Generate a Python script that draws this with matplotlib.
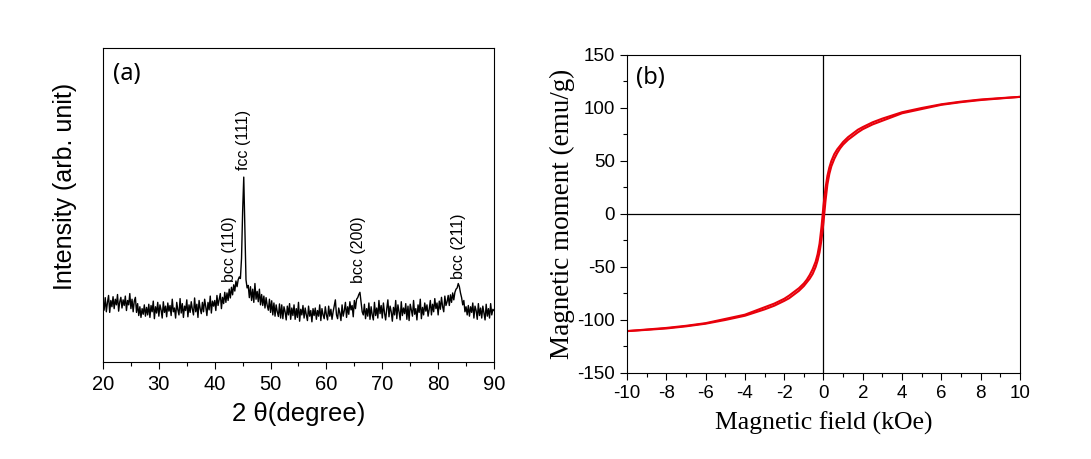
import numpy as np
import matplotlib
matplotlib.use("Agg")
import matplotlib.pyplot as plt
from matplotlib.ticker import MultipleLocator

plt.rcParams["axes.unicode_minus"] = False

# (a) XRD pattern, 2theta from 20 to 90 deg in 0.2 deg steps
two_theta_start, two_theta_step = 20.0, 0.2
intensity = [
    198, 165, 205, 160, 190, 212, 158, 196, 176, 208,
    170, 200, 182, 215, 162, 192, 206, 172, 198, 180,
    210, 164, 196, 182, 218, 170, 200, 160, 194, 206,
    158, 186, 148, 176, 142, 170, 152, 182, 146, 174,
    150, 184, 142, 180, 160, 194, 138, 176, 156, 190,
    146, 182, 166, 140, 192, 158, 178, 144, 188, 162,
    180, 148, 200, 160, 172, 140, 190, 166, 150, 202,
    156, 186, 142, 178, 164, 198, 144, 182, 158, 192,
    168, 150, 204, 160, 184, 142, 196, 170, 154, 190,
    160, 200, 176, 148, 190, 166, 210, 156, 194, 178,
    196, 164, 212, 180, 200, 218, 170, 206, 186, 222,
    190, 220, 196, 232, 204, 238, 214, 246, 226, 258,
    240, 262, 271, 266, 330, 480, 589, 420, 262, 236,
    244, 205, 240, 196, 232, 190, 250, 200, 225, 192,
    232, 182, 215, 180, 210, 172, 205, 180, 165, 200,
    158, 195, 150, 188, 146, 182, 160, 145, 185, 140,
    182, 138, 176, 160, 134, 178, 150, 186, 136, 172,
    148, 182, 136, 170, 142, 190, 130, 168, 150, 180,
    140, 172, 150, 132, 178, 146, 164, 128, 170, 148,
    172, 136, 164, 146, 182, 132, 170, 150, 138, 176,
    150, 134, 178, 146, 168, 136, 160, 180, 198, 150,
    138, 172, 156, 132, 182, 146, 164, 190, 142, 176,
    152, 192, 166, 180, 144, 196, 170, 200, 205, 215,
    222, 190, 160, 150, 184, 138, 170, 146, 188, 136,
    176, 150, 134, 190, 148, 172, 140, 196, 154, 180,
    140, 188, 156, 134, 170, 198, 144, 178, 160, 130,
    174, 150, 196, 138, 182, 160, 134, 192, 148, 172,
    154, 186, 136, 178, 132, 184, 166, 146, 196, 152,
    170, 134, 182, 158, 200, 138, 174, 150, 188, 162,
    182, 146, 168, 196, 150, 184, 160, 202, 170, 188,
    150, 194, 168, 206, 176, 160, 210, 180, 192, 212,
    180, 214, 190, 220, 198, 222, 232, 236, 250, 240,
    220, 205, 182, 196, 160, 176, 150, 180, 146, 176,
    158, 188, 140, 178, 164, 136, 186, 148, 172, 140,
    178, 156, 134, 184, 146, 170, 140, 186, 150, 168,
    164,
]
peak_labels = ["bcc (110)", "fcc (111)", "bcc (200)", "bcc (211)"]
peak_pos = [42.7, 45.2, 65.8, 83.6]
peak_label_y = [255, 612, 252, 264]

# (b) M-H loop, descending branch (ascending branch is its mirror image)
field_down = [10, 9, 8, 7, 6, 5, 4, 3.5, 3, 2.5, 2, 1.75, 1.5, 1.25, 1, 0.85, 0.7,
              0.55, 0.4, 0.3, 0.2, 0.1, 0.05, 0, -0.05, -0.1, -0.2, -0.3, -0.4,
              -0.55, -0.7, -0.85, -1, -1.25, -1.5, -1.75, -2, -2.5, -3, -3.5, -4,
              -5, -6, -7, -8, -9, -10]
moment_down = [110.5, 109.3, 108, 106, 103.5, 100, 96, 93, 90, 86.5, 82, 79.5, 76,
               72.5, 68, 64.5, 61, 56.5, 50, 44, 36, 24, 16, 8, -2, -12, -28, -38,
               -45, -52, -57.5, -62, -65.5, -70, -73.5, -77, -80, -84.5, -88, -91.5,
               -95, -99, -103, -105.5, -107.5, -109, -110.5]

two_theta = two_theta_start + two_theta_step * np.arange(len(intensity))
field_up = [-h for h in field_down]
moment_up = [-m for m in moment_down]

fig = plt.figure(figsize=(10.91, 4.59), dpi=100)
ax1 = fig.add_axes([0.0944, 0.2113, 0.3584, 0.684])
ax2 = fig.add_axes([0.5747, 0.1874, 0.3602, 0.6928])

# ---- (a)
ax1.plot(two_theta, intensity, color="black", lw=1.0)
ax1.set_xlim(20, 90)
ax1.set_ylim(0, 1000)
ax1.xaxis.set_major_locator(MultipleLocator(10))
ax1.xaxis.set_minor_locator(MultipleLocator(5))
ax1.tick_params(axis="x", which="major", direction="out", length=5, width=0.8,
                labelsize=14.5, pad=4)
ax1.tick_params(axis="x", which="minor", direction="out", length=3, width=0.8)
ax1.tick_params(axis="y", left=False, labelleft=False)
for lab in ax1.get_xticklabels():
    lab.set_family("Liberation Sans")
ax1.set_xlabel("2 \u03b8(degree)", family="Liberation Sans", fontsize=18.5, labelpad=6)
ax1.set_ylabel("Intensity (arb. unit)", family="Liberation Sans", fontsize=18)
ax1.yaxis.set_label_coords(-0.066, 0.56)
for name, x, y in zip(peak_labels, peak_pos, peak_label_y):
    ax1.text(x, y, name, rotation=90, ha="center", va="bottom",
             family="Liberation Sans", fontsize=11.5)
ax1.text(0.025, 0.955, "(a)", transform=ax1.transAxes, ha="left", va="top",
         family="Noto Sans", fontsize=17)

# ---- (b)
ax2.axhline(0, color="black", lw=0.9)
ax2.axvline(0, color="black", lw=0.9)
ax2.plot(field_down, moment_down, color="#e8000b", lw=1.5)
ax2.plot(field_up, moment_up, color="#e8000b", lw=1.5)
ax2.set_xlim(-10, 10)
ax2.set_ylim(-150, 150)
ax2.xaxis.set_major_locator(MultipleLocator(2))
ax2.xaxis.set_minor_locator(MultipleLocator(1))
ax2.yaxis.set_major_locator(MultipleLocator(50))
ax2.yaxis.set_minor_locator(MultipleLocator(25))
ax2.tick_params(which="major", direction="out", length=5, width=0.8, labelsize=13.5)
ax2.tick_params(which="minor", direction="out", length=3, width=0.8)
for lab in ax2.get_xticklabels() + ax2.get_yticklabels():
    lab.set_family("Liberation Sans")
ax2.set_xlabel("Magnetic field (kOe)", family="Liberation Serif", fontsize=18.5, labelpad=7)
ax2.set_ylabel("Magnetic moment (emu/g)", family="Liberation Serif", fontsize=19.5, labelpad=2)
ax2.text(0.023, 0.965, "(b)", transform=ax2.transAxes, ha="left", va="top",
         family="Noto Sans", fontsize=17)

fig.savefig("out.png", dpi=100)
